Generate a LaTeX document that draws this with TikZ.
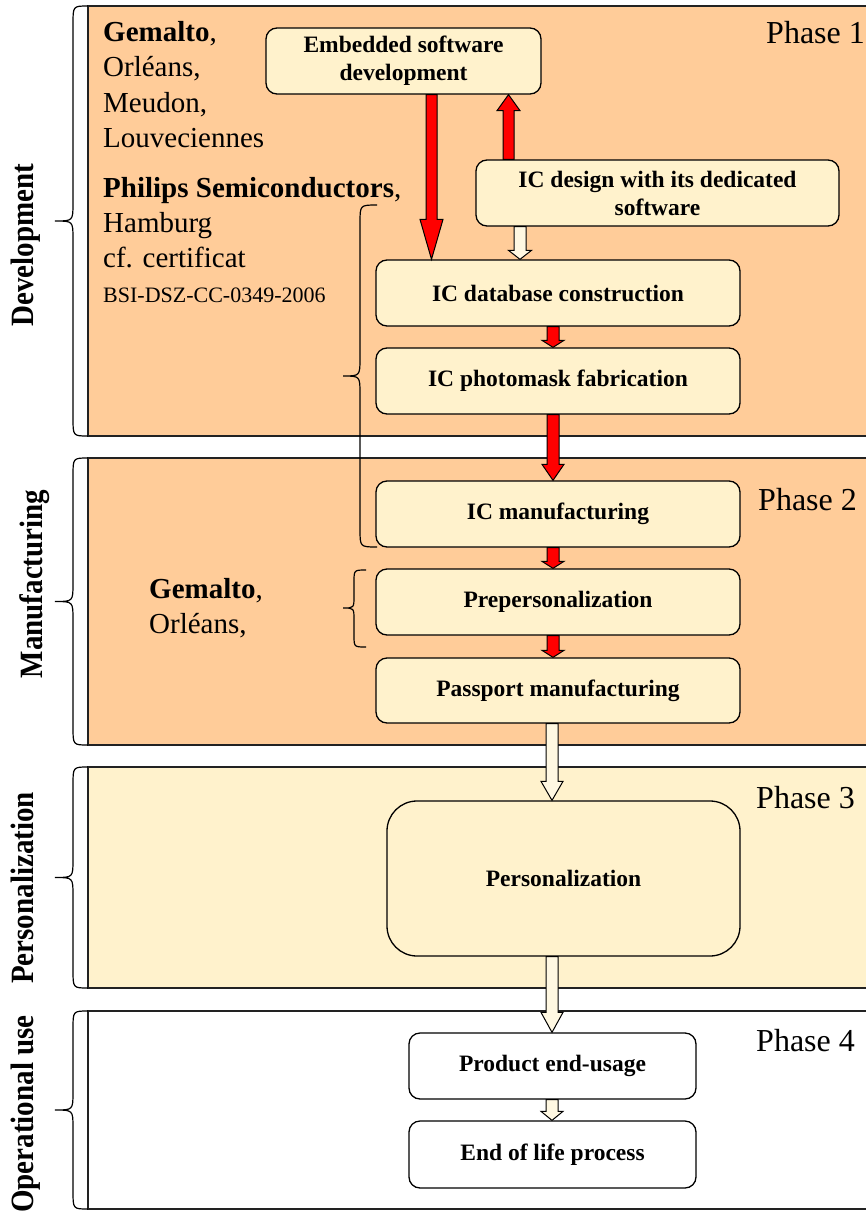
\documentclass[tikz,border=0pt]{standalone}
\usepackage{fontspec}
\setmainfont{Liberation Serif}
\usetikzlibrary{calc}
\definecolor{peach}{HTML}{FFCC99}
\definecolor{cream}{HTML}{FFF2CC}
\definecolor{lightcream}{HTML}{FFF8E2}
\definecolor{edge}{HTML}{222222}
\newcommand\blockarrow[7]{%
  \draw[#1] let \p1=(#3), \p2=(#4) in
    (#2-#5,\y1) -- (#2-#5,\y2+#7) -- (#2-#6,\y2+#7) -- (#2,\y2)
    -- (#2+#6,\y2+#7) -- (#2+#5,\y2+#7) -- (#2+#5,\y1) -- cycle;}
\newcommand\vbrace[7]{%
  \draw[bracestyle] (#1,#4) .. controls (#2,#4) .. (#2,#4-#7) -- (#2,#5+#7)
    .. controls (#2,#5) .. (#3,#5) .. controls (#2,#5) .. (#2,#5-#7)
    -- (#2,#6+#7) .. controls (#2,#6) .. (#1,#6);}
\begin{document}
\begin{tikzpicture}[x=1pt,y=1pt,
  phasebox/.style={draw=edge, line width=2pt},
  box/.style={draw=black, fill=cream, line width=1.3pt, rounded corners=11pt,
    align=center, inner sep=0pt, font=\fontsize{23.5}{28}\selectfont\bfseries},
  wbox/.style={box, fill=white},
  lefttext/.style={anchor=base west, inner sep=0pt, font=\fontsize{29}{34}\selectfont},
  phaselabel/.style={anchor=base west, inner sep=0pt, font=\fontsize{32}{36}\selectfont},
  sidelabel/.style={anchor=base, inner sep=0pt, rotate=90, yscale=1.12,
    font=\fontsize{29}{34}\selectfont\bfseries},
  bracestyle/.style={draw=black, line width=1.2pt},
  redarrow/.style={draw=black, fill=red, line width=1pt, line join=miter},
  whitearrow/.style={draw=black, fill=lightcream, line width=1pt, line join=miter}]
\useasboundingbox (0,0) rectangle (866,-1215);
\clip (0,0) rectangle (866,-1215);

% phase bands
\draw[phasebox, fill=peach] (88,-6) rectangle (890,-436);
\draw[phasebox, fill=peach] (88,-458) rectangle (890,-745);
\draw[phasebox, fill=cream] (88,-767) rectangle (890,-988);
\draw[phasebox, fill=white] (88,-1011) rectangle (890,-1209);

% phase labels
\node[phaselabel] (ph1) at (766,-44) {Phase 1};
\node[phaselabel] (ph2) at (758,-510) {Phase 2};
\node[phaselabel] (ph3) at (756,-808) {Phase 3};
\node[phaselabel] (ph4) at (756,-1051) {Phase 4};

% left braces
\vbrace{88}{73}{55}{-6}{-221}{-436}{18}
\vbrace{88}{73}{55}{-458}{-601.5}{-745}{18}
\vbrace{88}{73}{55}{-767}{-877.5}{-988}{18}
\vbrace{88}{73}{55}{-1011}{-1110}{-1209}{18}

% side labels
\node[sidelabel] (sDev) at (33,-245) {Development};
\node[sidelabel] (sMan) at (42,-584) {Manufacturing};
\node[sidelabel] (sPer) at (33,-888) {Personalization};
\node[sidelabel] (sOp) at (33,-1114) {Operational use};

% left texts
\node[lefttext] (t1) at (103,-42) {\textbf{Gemalto},};
\node[lefttext] (t2) at (103,-77) {Orléans,};
\node[lefttext] (t3) at (103,-112) {Meudon,};
\node[lefttext] (t4) at (103,-147) {Louveciennes};
\node[lefttext] (t5) at (103,-197) {\textbf{Philips Semiconductors},};
\node[lefttext] (t6) at (103,-232) {Hamburg};
\node[lefttext] (t7) at (103,-267) {cf. certificat};
\node[lefttext, font=\fontsize{22}{26}\selectfont] (t8) at (103,-302) {BSI-DSZ-CC-0349-2006};
\node[lefttext] (m1) at (149,-598) {\textbf{Gemalto},};
\node[lefttext] (m2) at (149,-633) {Orléans,};

% inner braces
\vbrace{377}{360}{343}{-205}{-376}{-547}{18}
\vbrace{366}{354}{343}{-570}{-608}{-647}{12}

% process boxes
\node[box, minimum width=275pt, minimum height=66pt] (emb) at (403.5,-61) {Embedded software\\development};
\node[box, minimum width=363pt, minimum height=66pt] (icd) at (657.5,-193) {IC design with its dedicated\\software};
\node[box, minimum width=364pt, minimum height=66pt] (db) at (558,-293) {IC database construction};
\node[box, minimum width=364pt, minimum height=66pt] (pm) at (558,-381) {IC photomask fabrication};
\node[box, minimum width=364pt, minimum height=66pt] (icm) at (558,-514) {IC manufacturing};
\node[box, minimum width=364pt, minimum height=66pt] (pre) at (558,-602) {Prepersonalization};
\node[box, minimum width=364pt, minimum height=65pt] (pp) at (558,-690.5) {Passport manufacturing};
\node[box, rounded corners=30pt, minimum width=353pt, minimum height=155pt] (per) at (563.5,-878.5) {Personalization};
\node[wbox, minimum width=287pt, minimum height=66pt] (peu) at (552.5,-1066) {Product end-usage};
\node[wbox, minimum width=287pt, minimum height=67pt] (eol) at (552.5,-1154.5) {End of life process};

% connectors
\blockarrow{redarrow}{431.5}{emb.south}{db.north}{5.5}{11.5}{40}
\blockarrow{redarrow}{508.5}{icd.north}{emb.south}{5.5}{11.5}{-16}
\blockarrow{whitearrow}{520}{icd.south}{db.north}{6}{11.5}{9}
\blockarrow{redarrow}{553}{db.south}{pm.north}{6}{11}{7}
\blockarrow{redarrow}{553}{pm.south}{icm.north}{6}{11}{16}
\blockarrow{redarrow}{553}{icm.south}{pre.north}{6}{11}{7}
\blockarrow{redarrow}{553}{pre.south}{pp.north}{6}{11}{7}
\blockarrow{whitearrow}{552}{pp.south}{per.north}{6}{11}{19}
\blockarrow{whitearrow}{552}{per.south}{peu.north}{6}{11}{20}
\blockarrow{whitearrow}{552}{peu.south}{eol.north}{6}{11}{9}
\end{tikzpicture}
\end{document}
